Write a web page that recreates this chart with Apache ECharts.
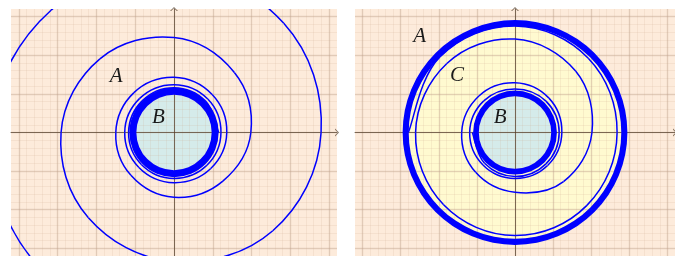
<!DOCTYPE html>
<html>
<head>
<meta charset="utf-8">
<script src="https://cdn.jsdelivr.net/npm/echarts@6/dist/echarts.min.js"></script>
<style>
  html, body { margin: 0; padding: 0; background: #fff; }
  #chart { width: 675px; height: 256px; }
</style>
</head>
<body>
<div id="chart"></div>
<script>
// left panel: orbit coming in from outside and winding onto the cycle around B
// angle in degrees (counterclockwise, cumulative), radius in plot units
const leftAngles = [-1440, -1395, -1350, -1305, -1260, -1215, -1170, -1125, -1080, -1035,
  -990, -945, -900, -855, -810, -765, -720, -675, -630, -585, -540, -495, -450, -405,
  -360, -315, -270, -225, -180, -135, -90, -45, 0, 45, 90, 135, 180, 225, 270]
const leftRadii = [1.15, 1.15, 1.16, 1.16, 1.17, 1.18, 1.19, 1.20, 1.21, 1.23,
  1.24, 1.25, 1.27, 1.28, 1.30, 1.33, 1.36, 1.39, 1.43, 1.46, 1.50, 1.57, 1.68, 1.78,
  1.98, 2.20, 2.46, 2.70, 2.91, 3.12, 3.34, 3.60, 3.79, 4.00, 4.22, 4.48, 4.71, 4.92, 5.10]
const leftBand = [0.97, 1.15]   // dense turns of the cycle
const leftDisk = 0.97           // region B

// right panel: orbit leaving the inner cycle and winding onto the outer one
const rightAngles = [-180, -135, -90, -45, 0, 45, 90, 135, 180, 225, 270, 315,
  360, 405, 450, 495, 540, 585, 630, 675, 720, 765, 810, 855, 900, 945,
  990, 1035, 1080, 1125, 1170, 1215, 1260]
const rightRadii = [1.12, 1.13, 1.14, 1.15, 1.16, 1.15, 1.13, 1.16, 1.19, 1.19, 1.19, 1.21,
  1.23, 1.26, 1.29, 1.34, 1.40, 1.46, 1.55, 1.80, 2.02, 2.25, 2.42, 2.53, 2.61, 2.65,
  2.67, 2.67, 2.68, 2.72, 2.76, 2.78, 2.80]
const rightInnerBand = [0.95, 1.10]
const rightOuterBand = [2.79, 2.95]
const rightDisk = 0.95          // region B
const rightAnnulus = [0.95, 2.95] // region C

const xRange = [-4.2, 4.2]
const yRange = [-3.2, 3.2]

const leftLabels = [['A', -1.49, 1.45], ['B', -0.40, 0.38]]
const rightLabels = [['A', -2.50, 2.48], ['C', -1.52, 1.47], ['B', -0.39, 0.38]]

const BLUE = '#0000ff'
const PEACH = '#fdebdb'
const YELLOW = '#fffad0'
const CYAN = '#d5ebea'
const MINOR = 'rgba(205,170,140,0.16)'
const MAJOR = 'rgba(190,160,140,0.35)'
const AXIS = 'rgba(80,60,40,0.7)'
const ARROW = 'path://M0,10 L10,0 L20,10 L17,10 L10,3 L3,10 Z'
const TENSION = 0.1875  // handle length for the curve through the read points

function toXY(angles, radii) {
  return angles.map((a, i) => {
    const t = a * Math.PI / 180
    return [radii[i] * Math.cos(t), radii[i] * Math.sin(t)]
  })
}

function clipRect(params) {
  const cs = params.coordSys
  return {type: 'rect', shape: {x: cs.x, y: cs.y, width: cs.width, height: cs.height}}
}

function ring(g, r0, r, color, z) {
  return {
    type: 'custom', xAxisIndex: g * 2, yAxisIndex: g * 2, z: z, silent: true,
    data: [[0, 0, r0, r]],
    renderItem(params, api) {
      const c = api.coord([api.value(0), api.value(1)])
      return {
        type: 'ring',
        shape: {cx: c[0], cy: c[1], r: api.size([api.value(3), 0])[0], r0: api.size([api.value(2), 0])[0]},
        style: {fill: color}
      }
    }
  }
}

function labels(g, items) {
  return {
    type: 'custom', xAxisIndex: g * 2, yAxisIndex: g * 2, z: 8, silent: true,
    data: items.map(d => [d[1], d[2], d[0]]),
    renderItem(params, api) {
      const c = api.coord([api.value(0), api.value(1)])
      return {
        type: 'text', x: c[0], y: c[1],
        style: {
          text: api.value(2), fill: '#1a1a1a',
          font: 'italic 21px "Liberation Serif", serif',
          align: 'center', verticalAlign: 'middle'
        }
      }
    }
  }
}

// one smooth segment per pair of neighbouring points
function orbit(g, pts) {
  return {
    type: 'custom', xAxisIndex: g * 2, yAxisIndex: g * 2, z: 6, silent: true,
    data: pts.slice(0, -1),
    renderItem(params, api) {
      const i = params.dataIndex
      const P = k => api.coord(pts[Math.max(0, Math.min(pts.length - 1, k))])
      const p0 = P(i - 1), p1 = P(i), p2 = P(i + 1), p3 = P(i + 2)
      return {
        type: 'bezierCurve',
        shape: {
          x1: p1[0], y1: p1[1], x2: p2[0], y2: p2[1],
          cpx1: p1[0] + (p2[0] - p0[0]) * TENSION, cpy1: p1[1] + (p2[1] - p0[1]) * TENSION,
          cpx2: p2[0] - (p3[0] - p1[0]) * TENSION, cpy2: p2[1] - (p3[1] - p1[1]) * TENSION
        },
        style: {stroke: BLUE, lineWidth: 1.5, fill: 'none'},
        clipPath: clipRect(params)
      }
    }
  }
}

function axesFor(g, range, splitNumber) {
  const major = {
    type: 'value', gridIndex: g, min: range[0], max: range[1], splitNumber: splitNumber, z: 4,
    axisLine: {show: true, onZero: true, symbol: ['none', ARROW], symbolSize: [8, 5],
      lineStyle: {color: AXIS, width: 1}},
    axisTick: {show: false}, axisLabel: {show: false},
    splitLine: {show: true, showMinLine: false, showMaxLine: false, lineStyle: {color: MAJOR, width: 1.4}}
  }
  const minor = {
    type: 'value', gridIndex: g, min: range[0], max: range[1], interval: 0.2, z: 3,
    axisLine: {show: false}, axisTick: {show: false}, axisLabel: {show: false},
    splitLine: {show: true, showMinLine: false, showMaxLine: false, lineStyle: {color: MINOR, width: 1}}
  }
  return [major, minor]
}

const chart = echarts.init(document.getElementById('chart'), null, {renderer: 'canvas'})
chart.setOption({
  animation: false,
  backgroundColor: '#fff',
  grid: [
    {left: 11, top: 9, width: 326, height: 248, show: true, backgroundColor: PEACH, borderWidth: 0},
    {left: 355, top: 9, width: 326, height: 248, show: true, backgroundColor: PEACH, borderWidth: 0}
  ],
  xAxis: [...axesFor(0, xRange, 8), ...axesFor(1, xRange, 8)],
  yAxis: [...axesFor(0, yRange, 6), ...axesFor(1, yRange, 6)],
  series: [
    ring(0, 0, leftDisk, CYAN, 1),
    ring(0, leftBand[0], leftBand[1], BLUE, 6),
    orbit(0, toXY(leftAngles, leftRadii)),
    labels(0, leftLabels),

    ring(1, rightAnnulus[0], rightAnnulus[1], YELLOW, 1),
    ring(1, 0, rightDisk, CYAN, 1),
    ring(1, rightInnerBand[0], rightInnerBand[1], BLUE, 6),
    ring(1, rightOuterBand[0], rightOuterBand[1], BLUE, 6),
    orbit(1, toXY(rightAngles, rightRadii)),
    labels(1, rightLabels)
  ]
})
</script>
</body>
</html>
